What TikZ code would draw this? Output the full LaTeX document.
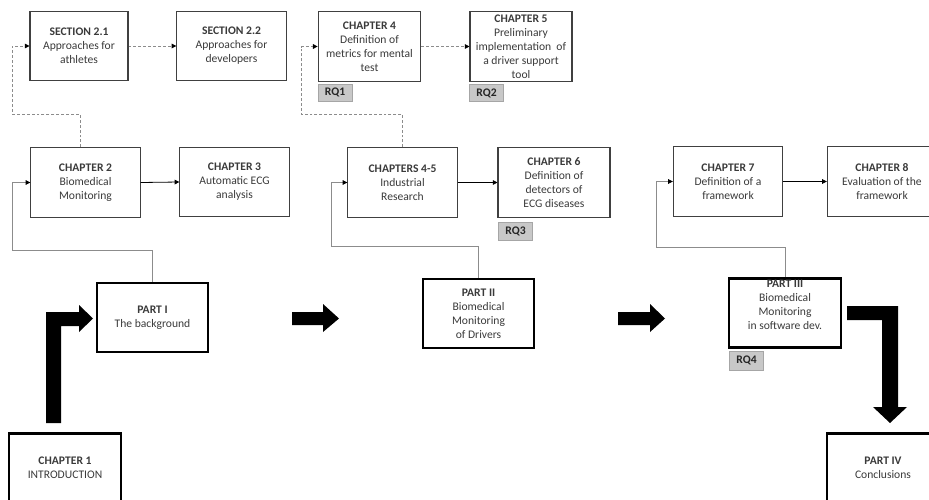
\documentclass[tikz,border=0pt]{standalone}
\usepackage{fontspec}
\setmainfont{Carlito}
\usetikzlibrary{arrows.meta}
\definecolor{boxline}{HTML}{404040}
\definecolor{bodytext}{HTML}{3A3A3A}
\definecolor{rqfill}{HTML}{C8C8C8}
\definecolor{rqline}{HTML}{A6A6A6}
\definecolor{linkgray}{HTML}{8C8C8C}

\begin{document}
\begin{tikzpicture}[x=0.75pt,y=-0.75pt,font=\fontsize{8.7}{10.5}\selectfont,
  chapbox/.style={draw=boxline,line width=0.8pt,align=center,text=bodytext,inner sep=0pt,minimum width=82pt,minimum height=52pt},
  partbox/.style={chapbox,draw=black,line width=1.8pt},
  rqtag/.style={draw=rqline,fill=rqfill,font=\fontsize{8.7}{10.5}\selectfont\bfseries,text=black!85,inner sep=0pt,minimum width=25.5pt,minimum height=12.5pt},
  flow/.style={draw=black,line width=0.6pt,-{Triangle[length=3.5pt,width=3.5pt,color=black]}},
  dashflow/.style={flow,draw=linkgray,dash pattern=on 2.2pt off 1.5pt},
  partlink/.style={flow,draw=linkgray},
  bigarrow/.style={fill=black}]
\clip (0,0) rectangle (929,500);

% top row: sections and chapters 4-5
\node[chapbox,minimum width=73.5pt] (sec21) at (79,46) {\textbf{SECTION 2.1}\\Approaches for\\athletes};
\node[chapbox] (sec22) at (231.5,46) {\textbf{SECTION 2.2}\\Approaches for\\developers};
\node[chapbox,minimum width=77pt] (ch4) at (369.5,46.5) {\textbf{CHAPTER 4}\\Definition of\\metrics for mental\\test};
\node[chapbox,minimum width=76.5pt] (ch5) at (521,46.5) {\textbf{CHAPTER 5}\\Preliminary\\implementation\ \ of\\a driver support\\tool};
\node[rqtag] (rq1) at (335,92.5) {RQ1};
\node[rqtag] (rq2) at (486.5,93) {RQ2};

% middle row
\node[chapbox] (ch2) at (85.5,182.5) {\textbf{CHAPTER 2}\\Biomedical\\Monitoring};
\node[chapbox] (ch3) at (234.5,182) {\textbf{CHAPTER 3}\\Automatic ECG\\analysis};
\node[chapbox] (ch45) at (402.5,182.5) {\textbf{CHAPTERS 4-5}\\Industrial\\Research};
\node[chapbox,minimum width=84pt] (ch6) at (554,182.5) {\textbf{CHAPTER 6}\\Definition of\\detectors of\\ECG diseases};
\node[rqtag,minimum height=13.5pt] (rq3) at (515.5,231) {RQ3};
\node[chapbox] (ch7) at (728,181.5) {\textbf{CHAPTER 7}\\Definition of a\\framework};
\node[chapbox] (ch8) at (882,181.5) {\textbf{CHAPTER 8}\\Evaluation of the\\framework};

% parts
\node[partbox,minimum width=83pt] (part1) at (152.5,317.5) {\textbf{PART I}\\The background};
\node[partbox,minimum width=83pt] (part2) at (478.5,313.5) {\textbf{PART II}\\Biomedical\\Monitoring\\of Drivers};
\node[partbox,minimum width=84pt,text depth=12pt] (part3) at (785,313) {\textbf{PART III}\\Biomedical\\Monitoring\\in software dev.};
\node[rqtag,minimum height=14pt] (rq4) at (746.5,360.5) {RQ4};
\node[partbox,minimum width=84pt] (ch1) at (65,468) {\textbf{CHAPTER 1}\\INTRODUCTION};
\node[partbox,minimum width=84pt] (part4) at (883,468) {\textbf{PART IV}\\Conclusions};

% links
\draw[dashflow] (sec21.east) -- (sec22.west);
\draw[dashflow] (ch4.east) -- (ch5.west);
\draw[dashflow] ([xshift=-4pt]ch2.north) |- (12,114) |- (sec21.west);
\draw[dashflow] (ch45.north) |- (301,114) |- (ch4.west);
\draw[flow] (ch2.east) -- (ch3.west);
\draw[flow] (ch45.east) -- (ch6.west);
\draw[flow] (ch7.east) -- (ch8.west);
\draw[partlink] (part1.north) |- (12,250) |- (ch2.west);
\draw[partlink] (part2.north) |- (331,246) |- (ch45.west);
\draw[partlink] (part3.north) |- (656,247) |- (ch7.west);

% block arrows
\fill[bigarrow] (46,423) -- (46,312) -- (79,312) -- (79,305) -- (93,318.5) -- (79,332) -- (79,326) -- (61,326) -- (61,423) -- cycle;
\fill[bigarrow] (292,312) -- (323,312) -- (323,304) -- (339,318.5) -- (323,332) -- (323,325) -- (292,325) -- cycle;
\fill[bigarrow] (618,312) -- (650,312) -- (650,304) -- (665,318.5) -- (650,332) -- (650,325) -- (618,325) -- cycle;
\fill[bigarrow] (847,306) -- (898,306) -- (898,407) -- (907,407) -- (890,423) -- (873,407) -- (882,407) -- (882,320) -- (847,320) -- cycle;
\end{tikzpicture}
\end{document}
